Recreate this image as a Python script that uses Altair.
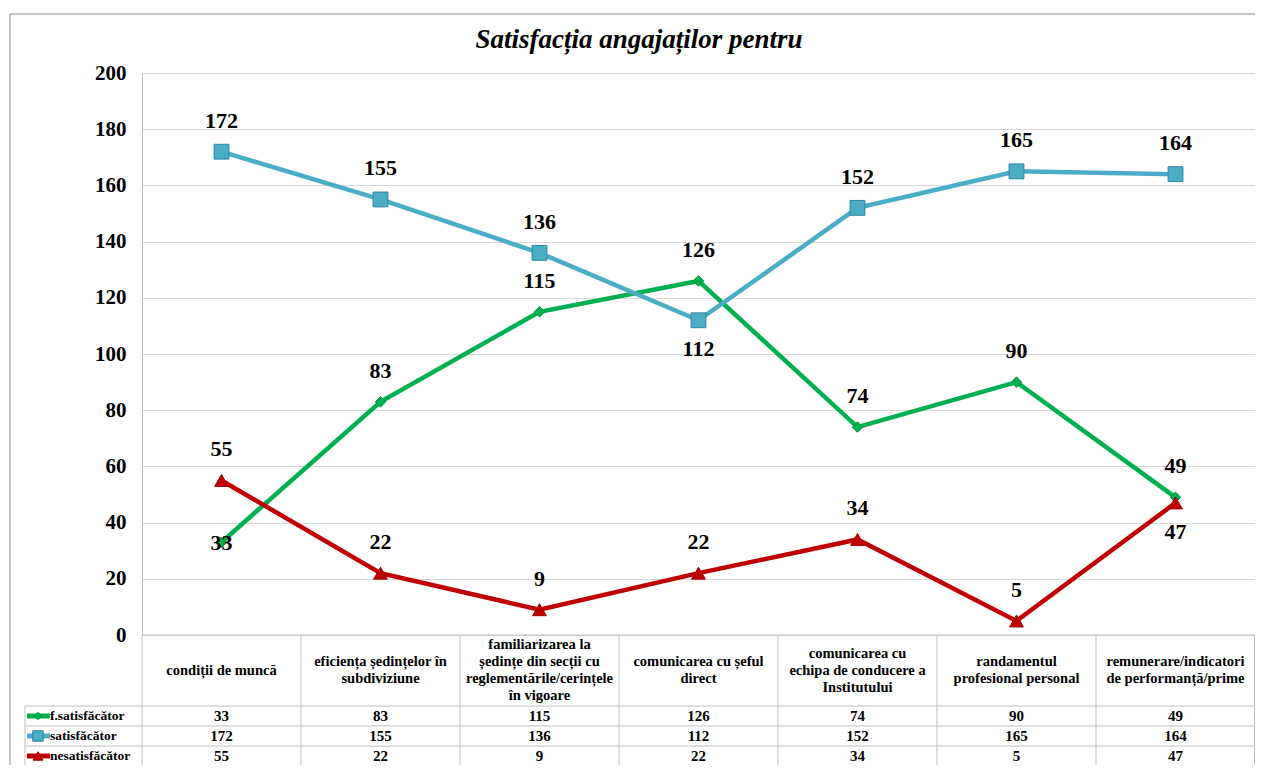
import altair as alt
import pandas as pd

# ---------------- data ----------------
categories = [
    "condiții de muncă",
    "eficiența ședințelor în\nsubdiviziune",
    "familiarizarea  la\nședințe din secții cu\nreglementările/cerințele\nîn vigoare",
    "comunicarea cu șeful\ndirect",
    "comunicarea cu\nechipa de conducere a\nInstitutului",
    "randamentul\nprofesional personal",
    "remunerare/indicatori\nde performanță/prime",
]
series_names = ["f.satisfăcător", "satisfăcător", "nesatisfăcător"]
f_satisfacator = [33, 83, 115, 126, 74, 90, 49]
satisfacator = [172, 155, 136, 112, 152, 165, 164]
nesatisfacator = [55, 22, 9, 22, 34, 5, 47]
y_ticks = list(range(0, 201, 20))
title_text = "Satisfacția angajaților pentru"

# label placement (style only)
label_pos = {
    "f.satisfăcător": ["center", "above", "above", "above", "above", "above", "above"],
    "satisfăcător": ["above", "above", "above", "below", "above", "above", "above"],
    "nesatisfăcător": ["above", "above", "above", "above", "above", "above", "below"],
}

# ---------------- style ----------------
colors = {"f.satisfăcător": "#00B050", "satisfăcător": "#4BACC6", "nesatisfăcător": "#C00000"}
strokes = {"f.satisfăcător": "#009040", "satisfăcător": "#2E86A3", "nesatisfăcător": "#A00000"}
shapes = {"f.satisfăcător": "diamond", "satisfăcător": "square", "nesatisfăcător": "triangle-up"}
sizes = {"f.satisfăcător": 110, "satisfăcător": 220, "nesatisfăcător": 190}
FONT = "Liberation Serif"
GRID = "#D9D9D9"
LINE = "#BFBFBF"

W, H = 1113, 562
HEADER_BOTTOM = 633
ROW_H = 20
ROW_TOP = [HEADER_BOTTOM + i * ROW_H for i in range(3)]
ROW_MID = [t + ROW_H / 2 for t in ROW_TOP]
TABLE_END = HEADER_BOTTOM + 3 * ROW_H + 20
LEG_X = -117
HEAD_FS = 14.5
HEAD_LH = 17

values = {"f.satisfăcător": f_satisfacator, "satisfăcător": satisfacator, "nesatisfăcător": nesatisfacator}
rows = []
for s in series_names:
    for i, c in enumerate(categories):
        rows.append({"cat": c, "series": s, "value": values[s][i], "pos": label_pos[s][i]})
df = pd.DataFrame(rows)
cat_df = pd.DataFrame({"cat": categories, "nlines": [c.count("\n") + 1 for c in categories]})
one = pd.DataFrame({"a": [0]})

x_scale = alt.Scale(type="band", domain=categories, paddingInner=0, paddingOuter=0)
x_enc = alt.X("cat:N", scale=x_scale, axis=None, sort=categories)
y_enc = alt.Y(
    "value:Q",
    scale=alt.Scale(domain=[0, 200], nice=False, zero=True),
    axis=alt.Axis(
        values=y_ticks, grid=True, gridColor=GRID, gridWidth=1, domain=True,
        domainColor=LINE, ticks=False, labelFont=FONT, labelFontSize=21,
        labelFontWeight="bold", labelColor="#000000", labelPadding=16, title=None,
    ),
)

layers = []

# outer border of the whole chart
layers.append(
    alt.Chart(one).mark_rect(fillOpacity=0, stroke="#8C8C8C", strokeWidth=1).encode(
        x=alt.value(-132), x2=alt.value(W + 20), y=alt.value(-59), y2=alt.value(H + 200)
    )
)

# title
layers.append(
    alt.Chart(pd.DataFrame({"t": [title_text]})).mark_text(
        font=FONT, fontSize=27, fontStyle="italic", fontWeight="bold",
        color="#000000", align="center", baseline="middle",
    ).encode(x=alt.value(497), y=alt.value(-33), text="t:N")
)

# ---------------- data table lines ----------------
layers.append(
    alt.Chart(one).mark_rule(color=LINE, strokeWidth=1).encode(
        x=alt.value(0), x2=alt.value(W), y=alt.value(H)
    )
)
for yy in ROW_TOP:
    layers.append(
        alt.Chart(one).mark_rule(color=LINE, strokeWidth=1).encode(
            x=alt.value(LEG_X), x2=alt.value(W), y=alt.value(yy)
        )
    )
layers.append(
    alt.Chart(cat_df).mark_rule(color=LINE, strokeWidth=1).encode(
        x=alt.X("cat:N", scale=x_scale, axis=None, sort=categories, bandPosition=0),
        y=alt.value(H), y2=alt.value(TABLE_END),
    )
)
layers.append(
    alt.Chart(one).mark_rule(color=LINE, strokeWidth=1).encode(
        x=alt.value(W - 0.5), y=alt.value(H), y2=alt.value(TABLE_END)
    )
)
layers.append(
    alt.Chart(one).mark_rule(color=LINE, strokeWidth=1).encode(
        x=alt.value(LEG_X), y=alt.value(HEADER_BOTTOM), y2=alt.value(TABLE_END)
    )
)

# ---------------- lines + markers ----------------
for s in series_names:
    sub = df[df.series == s]
    layers.append(
        alt.Chart(sub).mark_line(color=colors[s], strokeWidth=4.5).encode(x=x_enc, y=y_enc)
    )
    layers.append(
        alt.Chart(sub).mark_point(
            shape=shapes[s], size=sizes[s], filled=True, fill=colors[s],
            stroke=strokes[s], strokeWidth=1, opacity=1,
        ).encode(x=x_enc, y=y_enc)
    )

# ---------------- data labels ----------------
for pos, dy in [("above", -31), ("below", 29), ("center", 1)]:
    sub = df[df.pos == pos]
    layers.append(
        alt.Chart(sub).mark_text(
            font=FONT, fontSize=22, fontWeight="bold", color="#000000",
            baseline="middle", align="center", dy=dy,
        ).encode(x=x_enc, y=y_enc, text="value:Q")
    )

# ---------------- table header ----------------
for n in sorted(cat_df.nlines.unique()):
    sub = cat_df[cat_df.nlines == n]
    layers.append(
        alt.Chart(sub).mark_text(
            font=FONT, fontSize=HEAD_FS, fontWeight="bold", color="#000000",
            baseline="middle", align="center", lineBreak="\n", lineHeight=HEAD_LH,
            dy=-(int(n) - 1) * HEAD_LH / 2,
        ).encode(x=x_enc, y=alt.value((H + HEADER_BOTTOM) / 2), text="cat:N")
    )

# ---------------- table rows ----------------
for i, s in enumerate(series_names):
    sub = df[df.series == s]
    layers.append(
        alt.Chart(sub).mark_text(
            font=FONT, fontSize=15, fontWeight="bold", color="#000000",
            baseline="middle", align="center",
        ).encode(x=x_enc, y=alt.value(ROW_MID[i]), text="value:Q")
    )
    name_df = pd.DataFrame({"series": [s]})
    layers.append(
        alt.Chart(name_df).mark_rule(color=colors[s], strokeWidth=5).encode(
            x=alt.value(LEG_X + 2), x2=alt.value(LEG_X + 25), y=alt.value(ROW_MID[i])
        )
    )
    layers.append(
        alt.Chart(name_df).mark_point(
            shape=shapes[s], size=sizes[s] * 0.5, filled=True, fill=colors[s],
            stroke=strokes[s], strokeWidth=1, opacity=1,
        ).encode(x=alt.value(LEG_X + 13), y=alt.value(ROW_MID[i]))
    )
    layers.append(
        alt.Chart(name_df).mark_text(
            font=FONT, fontSize=13.5, fontWeight="bold", color="#000000",
            baseline="middle", align="left",
        ).encode(x=alt.value(LEG_X + 25), y=alt.value(ROW_MID[i]), text="series:N")
    )

chart = (
    alt.layer(*layers)
    .properties(
        width=W,
        height=H,
        padding={"left": 134, "top": 65, "right": 0, "bottom": 130},
        autosize=alt.AutoSizeParams(type="none"),
    )
    .configure_view(stroke=None)
    .configure(background="#FFFFFF")
)

chart.save("out.html", embed_options={"renderer": "svg", "actions": False})
